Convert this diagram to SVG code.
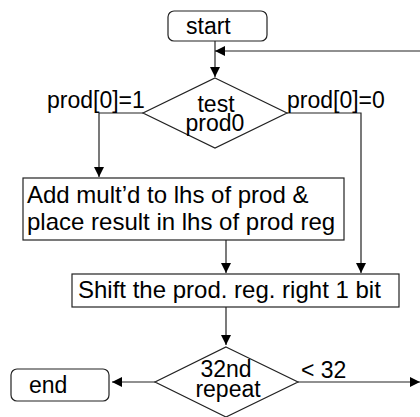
<svg xmlns="http://www.w3.org/2000/svg" width="420" height="417" viewBox="0 0 420 417">
  <style>
    .box { fill: #fff; stroke: #222; stroke-width: 1.2; }
    .line { fill: none; stroke: #222; stroke-width: 1.2; }
    .t { font-family: "Liberation Sans", Arial, sans-serif; font-size: 23px; fill: #000; }
    .big { font-size: 24px; }
    .c { text-anchor: middle; }
  </style>
  <defs>
    <marker id="arrow" viewBox="0 0 10 10" refX="10" refY="5" markerWidth="10" markerHeight="10" markerUnits="userSpaceOnUse" orient="auto">
      <path d="M0,0 L10,5 L0,10 Z" fill="#000"/>
    </marker>
  </defs>
  <rect width="420" height="417" fill="#fff"/>

  <!-- connectors -->
  <g id="connectors">
    <path class="line" d="M215,41 V77" marker-end="url(#arrow)"/>
    <path class="line" d="M420,51 H215" marker-end="url(#arrow)"/>
    <path class="line" d="M143,113 H99 V177" marker-end="url(#arrow)"/>
    <path class="line" d="M287,113 H361 V273" marker-end="url(#arrow)"/>
    <path class="line" d="M226,240 V273" marker-end="url(#arrow)"/>
    <path class="line" d="M226,307 V345" marker-end="url(#arrow)"/>
    <path class="line" d="M155,382 H112" marker-end="url(#arrow)"/>
    <path class="line" d="M298,382 H420" marker-end="url(#arrow)"/>
    <text class="t" x="47" y="108">prod[0]=1</text>
    <text class="t" x="287" y="108">prod[0]=0</text>
    <text class="t" x="301" y="378">&lt; 32</text>
  </g>

  <g id="start">
    <rect class="box" x="168" y="11" width="99" height="30" rx="6"/>
    <text class="t" x="186" y="34">start</text>
  </g>

  <g id="test-prod0">
    <path class="box" d="M215,78 L287,113 L215,148 L143,113 Z"/>
    <text class="t c" x="216" y="112">test</text>
    <text class="t c" x="215" y="131">prod0</text>
  </g>

  <g id="add">
    <rect class="box" x="23" y="178" width="321" height="62"/>
    <text class="t big" x="27" y="203">Add mult’d to lhs of prod &amp;</text>
    <text class="t big" x="27" y="230">place result in lhs of prod reg</text>
  </g>

  <g id="shift">
    <rect class="box" x="72" y="274" width="327" height="33"/>
    <text class="t big" x="78" y="298">Shift the prod. reg. right 1 bit</text>
  </g>

  <g id="repeat">
    <path class="box" d="M226,347 L298,382 L226,417 L155,382 Z"/>
    <text class="t c" x="226" y="377">32nd</text>
    <text class="t c" x="228" y="397">repeat</text>
  </g>

  <g id="end">
    <rect class="box" x="11" y="369" width="98" height="32" rx="6"/>
    <text class="t" x="29" y="393">end</text>
  </g>
</svg>
